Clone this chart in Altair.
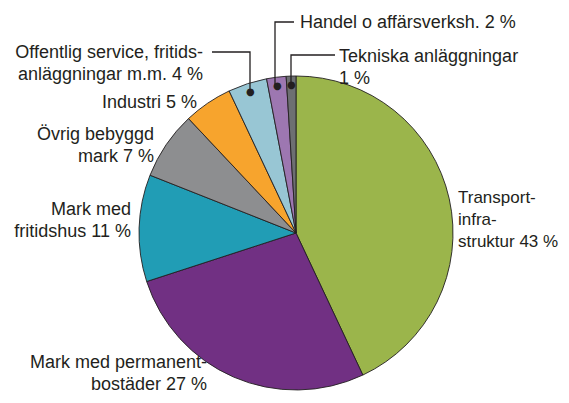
import altair as alt
import pandas as pd

# ---- chart data -------------------------------------------------------------
categories = [
    "Transportinfrastruktur",
    "Mark med permanentbostäder",
    "Mark med fritidshus",
    "Övrig bebyggd mark",
    "Industri",
    "Offentlig service, fritidsanläggningar m.m.",
    "Handel o affärsverksh.",
    "Tekniska anläggningar",
]
shares = [43, 27, 11, 7, 5, 4, 2, 1]
colors = ["#9bb54b", "#713083", "#219db5", "#8d8e90",
          "#f7a42d", "#98c6d4", "#9d77b1", "#6d6f72"]
label_texts = [
    "Transport-\ninfra-\nstruktur 43 %",
    "Mark med permanent-\nbostäder 27 %",
    "Mark med\nfritidshus 11 %",
    "Övrig bebyggd\nmark 7 %",
    "Industri 5 %",
    "Offentlig service, fritids-\nanläggningar m.m. 4 %",
    "Handel o affärsverksh. 2 %",
    "Tekniska anläggningar\n1 %",
]
has_leader = [False, False, False, False, False, True, True, True]

# ---- annotation layout (pixels inside the chart) ----------------------------
CX, CY, R = 288, 225, 157
label_x = [450, 199, 123, 146, 189, 195, 292, 331]
label_y = [195, 360, 207, 132, 100, 50, 20, 54]
label_align = ["left", "right", "right", "right", "right", "right", "left", "left"]
label_size = [17, 18, 18, 18, 18, 18, 18, 18]
# leader lines: (x, y) vertices, from the dot outwards
leaders = {
    "Offentlig": [(242, 84), (242, 44), (204, 44)],
    "Handel": [(267, 77), (267, 14), (286, 14)],
    "Tekniska": [(283, 77), (283, 47), (327, 47)],
}

INK = "#231f20"
FONT = "Liberation Sans"

pie_df = pd.DataFrame({
    "category": categories,
    "share": shares,
    "order": list(range(len(categories))),
    "dot": ["●" if h else "" for h in has_leader],
})

lab_df = pd.DataFrame({
    "label": label_texts,
    "lx": label_x,
    "ly": label_y,
    "align": label_align,
    "size": label_size,
})

rows = []
for name, pts in leaders.items():
    for i, (px, py) in enumerate(pts):
        rows.append({"id": name, "seq": i, "px": px, "py": py})
lead_df = pd.DataFrame(rows)

arc = alt.Chart(pie_df).mark_arc(
    radius=R, stroke=INK, strokeWidth=0.9
).encode(
    theta=alt.Theta("share:Q", stack=True),
    order=alt.Order("order:Q"),
    color=alt.Color("category:N", scale=alt.Scale(domain=categories, range=colors), legend=None),
    x=alt.value(CX),
    y=alt.value(CY),
)

dots = alt.Chart(pie_df).mark_text(
    radius=148, fontSize=10, color=INK, baseline="middle", align="center", font="DejaVu Sans"
).encode(
    theta=alt.Theta("share:Q", stack=True),
    order=alt.Order("order:Q"),
    text="dot:N",
    x=alt.value(CX),
    y=alt.value(CY),
)

lines = alt.Chart(lead_df).mark_line(color=INK, strokeWidth=1.3).encode(
    x=alt.X("px:Q", scale=None, axis=None),
    y=alt.Y("py:Q", scale=None, axis=None),
    detail="id:N",
    order="seq:Q",
)

def label_layer(al):
    return alt.Chart(lab_df).transform_filter(
        alt.datum.align == al
    ).mark_text(
        align=al, baseline="alphabetic", lineBreak="\n", lineHeight=22,
        font=FONT, color=INK
    ).encode(
        x=alt.X("lx:Q", scale=None, axis=None),
        y=alt.Y("ly:Q", scale=None, axis=None),
        size=alt.Size("size:Q", scale=None, legend=None),
        text="label:N",
    )

chart = alt.layer(arc, dots, lines, label_layer("left"), label_layer("right")).properties(
    width=553, height=387, padding=0, autosize=alt.AutoSizeParams(type="none")
).configure_view(stroke=None)

chart.save("out.html", embed_options={"renderer": "svg", "actions": False})
